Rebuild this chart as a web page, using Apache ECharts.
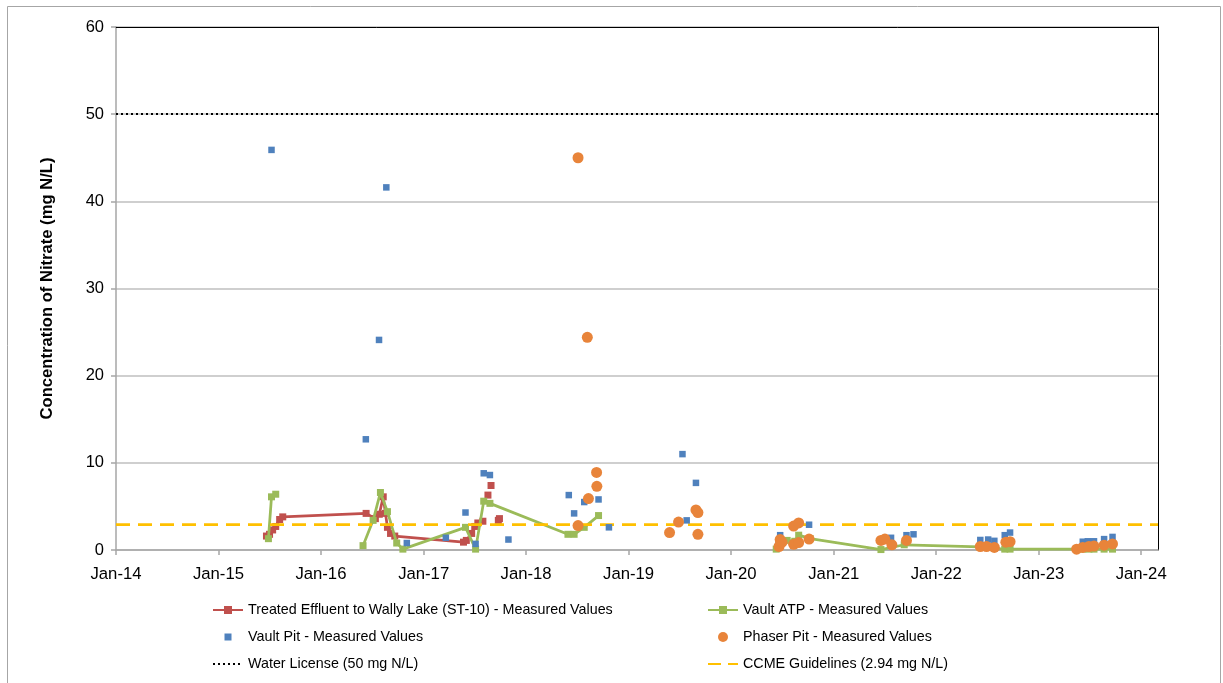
<!DOCTYPE html>
<html>
<head>
<meta charset="utf-8">
<script src="https://cdn.jsdelivr.net/npm/echarts@6/dist/echarts.min.js"></script>
<style>
html,body{margin:0;padding:0;background:#fff;}
#chart{width:1223px;height:683px;}
</style>
</head>
<body>
<div id="chart"></div>
<script>
// ---- Data ----
const xTickLabels = ['Jan-14','Jan-15','Jan-16','Jan-17','Jan-18','Jan-19','Jan-20','Jan-21','Jan-22','Jan-23','Jan-24'];

const effluentName = 'Treated Effluent to Wally Lake (ST-10) - Measured Values';
const effluentDates = ['2015-06-21','2015-07-02','2015-07-13','2015-07-24','2015-08-07','2015-08-18',
  '2016-06-10','2016-07-13','2016-07-27','2016-08-10','2016-08-18','2016-08-25','2016-09-05','2016-09-20',
  '2017-05-23','2017-06-02','2017-06-21','2017-07-02','2017-07-13','2017-07-31', null,
  '2017-08-18', null, '2017-08-29', null, '2017-09-24','2017-09-28'];
const effluentValues = [1.6, 1.8, 2.3, 2.7, 3.5, 3.8,
  4.2, 3.6, 4.1, 6.1, 4.2, 2.6, 1.9, 1.6,
  0.9, 1.1, 1.9, 2.7, 3.1, 3.3, null,
  6.3, null, 7.4, null, 3.4, 3.6];

const atpName = 'Vault ATP - Measured Values';
const atpDates = ['2015-06-28','2015-07-09','2015-07-24', null,
  '2016-05-30','2016-07-05','2016-07-31','2016-08-25','2016-09-27','2016-10-19',
  '2017-05-30','2017-07-05','2017-08-03','2017-08-25',
  '2018-05-30','2018-06-21','2018-07-27','2018-09-16', null,
  '2020-06-10','2020-06-24','2020-07-19','2020-08-15','2020-08-29','2020-10-09',
  '2021-06-18','2021-09-09',
  '2022-06-07','2022-07-05','2022-07-27','2022-09-02','2022-09-21',
  '2023-05-16','2023-06-07','2023-06-29','2023-07-17','2023-08-22','2023-09-21'];
const atpValues = [1.3, 6.1, 6.4, null,
  0.5, 3.4, 6.6, 4.4, 0.8, 0.1,
  2.6, 0.1, 5.6, 5.35,
  1.8, 1.8, 2.6, 3.95, null,
  0.1, 0.6, 1.1, 1.0, 1.7, 1.3,
  0.05, 0.6,
  0.35, 0.3, 0.2, 0.1, 0.1,
  0.1, 0.1, 0.1, 0.1, 0.1, 0.1];

const vaultPitName = 'Vault Pit - Measured Values';
const vaultPitDates = ['2015-07-09','2016-06-09','2016-07-26','2016-08-21','2016-11-02',
  '2017-03-21','2017-05-30','2017-07-05','2017-08-03','2017-08-25','2017-10-30',
  '2018-06-02','2018-06-21','2018-07-27','2018-09-16','2018-10-23',
  '2019-07-12','2019-07-27','2019-08-29',
  '2020-06-18','2020-06-24','2020-08-11','2020-10-05',
  '2021-07-24','2021-09-17','2021-10-12',
  '2022-06-07','2022-07-05','2022-07-27','2022-09-02','2022-09-21',
  '2023-06-07','2023-06-25','2023-07-17','2023-08-22','2023-09-21'];
const vaultPitValues = [45.9, 12.7, 24.1, 41.6, 0.8,
  1.4, 4.3, 0.7, 8.8, 8.6, 1.2,
  6.3, 4.2, 5.5, 5.8, 2.6,
  11.0, 3.4, 7.7,
  0.9, 1.7, 2.7, 2.9,
  1.4, 1.7, 1.8,
  1.15, 1.2, 1.05, 1.7, 2.0,
  0.95, 1.0, 1.0, 1.25, 1.5];

const phaserName = 'Phaser Pit - Measured Values';
const phaserDates = ['2018-07-05','2018-08-07','2018-09-09','2018-09-10','2018-08-11','2018-07-05',
  '2019-05-27','2019-06-28','2019-08-29','2019-09-05','2019-09-05',
  '2020-06-20','2020-06-24','2020-07-01','2020-08-11','2020-08-29','2020-08-11','2020-08-29','2020-10-05',
  '2021-06-18','2021-07-02','2021-07-27','2021-09-17',
  '2022-06-07','2022-06-29','2022-07-27','2022-09-06','2022-09-21',
  '2023-05-16','2023-06-07','2023-06-29','2023-07-17','2023-08-22','2023-09-21'];
const phaserValues = [45.0, 24.4, 8.9, 7.3, 5.9, 2.8,
  2.0, 3.2, 4.6, 4.3, 1.8,
  0.4, 1.2, 0.9, 2.75, 3.1, 0.65, 0.85, 1.25,
  1.1, 1.25, 0.6, 1.1,
  0.4, 0.4, 0.3, 0.9, 0.95,
  0.1, 0.3, 0.4, 0.45, 0.55, 0.7];

const waterLicenseName = 'Water License (50 mg N/L)';
const waterLicenseValue = 50;
const ccmeName = 'CCME Guidelines (2.94 mg N/L)';
const ccmeValue = 2.94;

const xMinDate = '2014-01-01';
const xMaxDate = '2024-03-01';
const yMin = 0, yMax = 60, yStep = 10;

// ---- Build ----
function toTime(s) {
  const p = s.split('-').map(Number);
  return new Date(p[0], p[1] - 1, p[2]).getTime();
}
function pairs(dates, values) {
  return dates.map((d, i) => (d === null || values[i] === null) ? ['-', '-'] : [toTime(d), values[i]]);
}
const xTickValues = xTickLabels.map(l => new Date(2000 + parseInt(l.slice(4), 10), 0, 1).getTime());
function tickLabel(v) {
  const i = xTickValues.indexOf(v);
  return i >= 0 ? xTickLabels[i] : '';
}

const FONT = '"Liberation Sans", Arial, sans-serif';
const chart = echarts.init(document.getElementById('chart'), null, {renderer: 'canvas'});

const legendText = {fontFamily: FONT, fontSize: 14.3, color: '#000'};
// small square centred in a 30x10 legend icon box
const smallSquareIcon = 'path://M0,0h0.01v0.01h-0.01zM11.5,1.5h7v7h-7zM29.99,9.99h0.01v0.01h-0.01z';

const legendCommon = {
  orient: 'vertical', top: 603, padding: 0, itemWidth: 30, itemHeight: 10, itemGap: 13,
  textStyle: legendText
};

chart.setOption({
  animation: false,
  backgroundColor: '#fff',
  graphic: [{
    type: 'rect', left: 5, top: 4, silent: true, z: -10,
    shape: {width: 1213, height: 700},
    style: {fill: 'none', stroke: '#A6A6A6', lineWidth: 1}
  }],
  grid: {left: 116, top: 27, right: 65, bottom: 133, show: false},
  legend: [Object.assign({left: 212,
    data: [effluentName, {name: vaultPitName, icon: smallSquareIcon}, waterLicenseName]}, legendCommon),
    Object.assign({left: 707,
    data: [atpName, {name: phaserName, icon: 'circle'}, ccmeName]}, legendCommon)],
  xAxis: [{
    type: 'value',
    min: toTime(xMinDate), max: toTime(xMaxDate),
    axisLine: {show: true, onZero: false, lineStyle: {color: '#A6A6A6', width: 1.5}},
    axisTick: {show: true, length: 5, lineStyle: {color: '#A6A6A6', width: 1.5}, customValues: xTickValues},
    axisLabel: {customValues: xTickValues, formatter: tickLabel, margin: 16,
      fontFamily: FONT, fontSize: 16.7, color: '#000'},
    splitLine: {show: false}
  }, {
    type: 'value', position: 'top',
    min: toTime(xMinDate), max: toTime(xMaxDate),
    axisLine: {show: true, onZero: false, lineStyle: {color: '#000', width: 1}},
    axisTick: {show: false}, axisLabel: {show: false}, splitLine: {show: false}
  }],
  yAxis: [{
    type: 'value', min: yMin, max: yMax, interval: yStep,
    name: 'Concentration of Nitrate (mg N/L)',
    nameLocation: 'middle', nameGap: 60,
    nameTextStyle: {fontFamily: FONT, fontSize: 16.6, fontWeight: 'bold', color: '#000'},
    axisLine: {show: true, lineStyle: {color: '#A6A6A6', width: 1.5}},
    axisTick: {show: true, length: 5, lineStyle: {color: '#A6A6A6', width: 1.5}},
    axisLabel: {margin: 12, fontFamily: FONT, fontSize: 16.5, color: '#000'},
    splitLine: {show: true, lineStyle: {color: '#BFBFBF', width: 1.5}}
  }, {
    type: 'value', position: 'right', min: yMin, max: yMax, interval: yStep,
    axisLine: {show: true, onZero: false, lineStyle: {color: '#000', width: 1}},
    axisTick: {show: false}, axisLabel: {show: false}, splitLine: {show: false}
  }],
  series: [{
    name: effluentName, type: 'line', data: pairs(effluentDates, effluentValues),
    symbol: 'rect', symbolSize: 7, showAllSymbol: true, connectNulls: false,
    lineStyle: {color: '#C0504D', width: 2.75}, itemStyle: {color: '#C0504D'}, z: 3
  }, {
    name: atpName, type: 'line', data: pairs(atpDates, atpValues),
    symbol: 'rect', symbolSize: 7, showAllSymbol: true, connectNulls: false,
    lineStyle: {color: '#9BBB59', width: 2.75}, itemStyle: {color: '#9BBB59'}, z: 4
  }, {
    name: vaultPitName, type: 'scatter', data: pairs(vaultPitDates, vaultPitValues),
    symbol: 'rect', symbolSize: 6.5, itemStyle: {color: '#4F81BD', opacity: 1}, z: 5
  }, {
    name: phaserName, type: 'scatter', data: pairs(phaserDates, phaserValues),
    symbol: 'circle', symbolSize: 11, itemStyle: {color: '#E8843A', opacity: 1}, z: 6
  }, {
    name: waterLicenseName, type: 'line', data: [], symbol: 'none',
    lineStyle: {color: '#000', width: 2, type: [2, 3]}, itemStyle: {color: '#000', opacity: 0},
    markLine: {silent: true, symbol: 'none', label: {show: false},
      lineStyle: {color: '#000', width: 2, type: [2, 3]},
      data: [{yAxis: waterLicenseValue}]}, z: 2
  }, {
    name: ccmeName, type: 'line', data: [], symbol: 'none',
    lineStyle: {color: '#FFC000', width: 2.75, type: [13, 7]}, itemStyle: {color: '#FFC000', opacity: 0},
    markLine: {silent: true, symbol: 'none', label: {show: false},
      lineStyle: {color: '#FFC000', width: 2.75, type: [14, 8]},
      data: [{yAxis: ccmeValue}]}, z: 2
  }]
});
</script>
</body>
</html>
